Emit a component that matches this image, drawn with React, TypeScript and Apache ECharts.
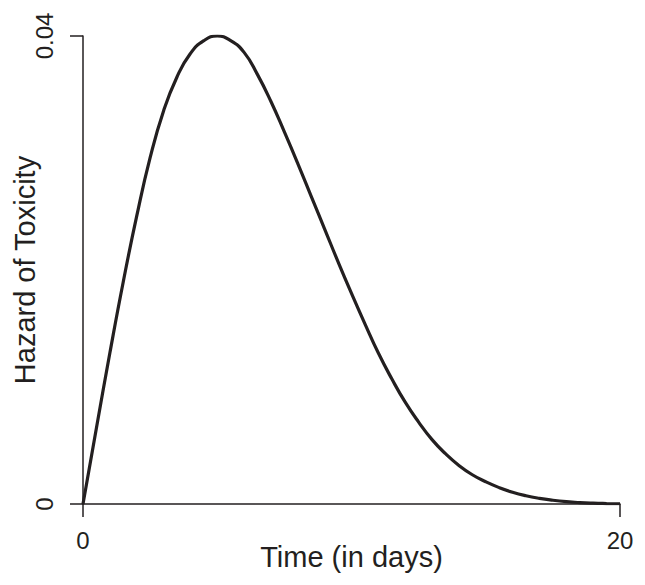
import React, { useEffect, useRef } from "react";
import * as echarts from "echarts";

const days: number[] = [
  0, 0.5, 1, 1.5, 2, 2.5, 3, 3.5, 4, 4.5, 5, 5.5, 6, 6.5, 7, 7.5, 8, 8.5, 9, 9.5,
  10, 10.5, 11, 11.5, 12, 12.5, 13, 13.5, 14, 14.5, 15, 15.5, 16, 16.5, 17, 17.5,
  18, 18.5, 19, 19.5, 20,
];
const hazard: number[] = [
  0, 0.0065, 0.0129, 0.019, 0.0246, 0.0296, 0.0336, 0.0365, 0.0385, 0.0396,
  0.04, 0.0396, 0.0386, 0.0367, 0.0344, 0.0318, 0.0291, 0.0263, 0.0235, 0.0207,
  0.018, 0.0154, 0.0129, 0.0107, 0.0087, 0.007, 0.0055, 0.0043, 0.0033, 0.0025,
  0.0019, 0.0014, 0.001, 0.0007, 0.00048, 0.00032, 0.0002, 0.00012, 0.00007,
  0.00004, 0.00002,
];
const xTicks = { min: 0, max: 20, interval: 20 };
const yTicks = { min: 0, max: 0.04, interval: 0.04 };
const xTitle = "Time (in days)";
const yTitle = "Hazard of Toxicity";

const FONT = "'Liberation Sans', Arial, Helvetica, sans-serif";
const INK = "#231f20";

export default function App() {
  const ref = useRef<HTMLDivElement>(null);
  useEffect(() => {
    if (!ref.current) return;
    const chart = echarts.init(ref.current, undefined, { renderer: "svg" });
    const axisLine = { show: true, lineStyle: { color: INK, width: 1.5 } };
    chart.setOption({
      animation: false,
      backgroundColor: "#ffffff",
      grid: {
        left: 83,
        right: 25,
        top: 36,
        bottom: 81,
        containLabel: false,
        outerBoundsMode: "none",
      },
      xAxis: {
        type: "value",
        ...xTicks,
        name: xTitle,
        nameLocation: "middle",
        nameGap: 38,
        nameMoveOverlap: false,
        nameTextStyle: { fontFamily: FONT, fontSize: 29, color: INK },
        axisLine,
        axisTick: { show: true, length: 13, lineStyle: { color: INK, width: 1.5 } },
        axisLabel: { fontFamily: FONT, fontSize: 24, color: INK, margin: 24 },
        splitLine: { show: false },
      },
      yAxis: {
        type: "value",
        ...yTicks,
        name: yTitle,
        nameLocation: "middle",
        nameGap: 44,
        nameMoveOverlap: false,
        nameTextStyle: { fontFamily: FONT, fontSize: 29, color: INK },
        axisLine,
        axisTick: { show: true, length: 13, lineStyle: { color: INK, width: 1.5 } },
        axisLabel: {
          fontFamily: FONT,
          fontSize: 24,
          color: INK,
          rotate: 90,
          margin: 27,
          formatter: (v: number) => (v === 0 ? "0" : String(v)),
        },
        splitLine: { show: false },
      },
      series: [
        {
          type: "line",
          data: days.map((d, i) => [d, hazard[i]]),
          smooth: true,
          showSymbol: false,
          lineStyle: { color: INK, width: 3.2 },
        },
      ],
    });
    return () => chart.dispose();
  }, []);
  return (
    <div
      ref={ref}
      style={{ position: "fixed", left: 0, top: 0, width: 645, height: 585, background: "#fff" }}
    />
  );
}
